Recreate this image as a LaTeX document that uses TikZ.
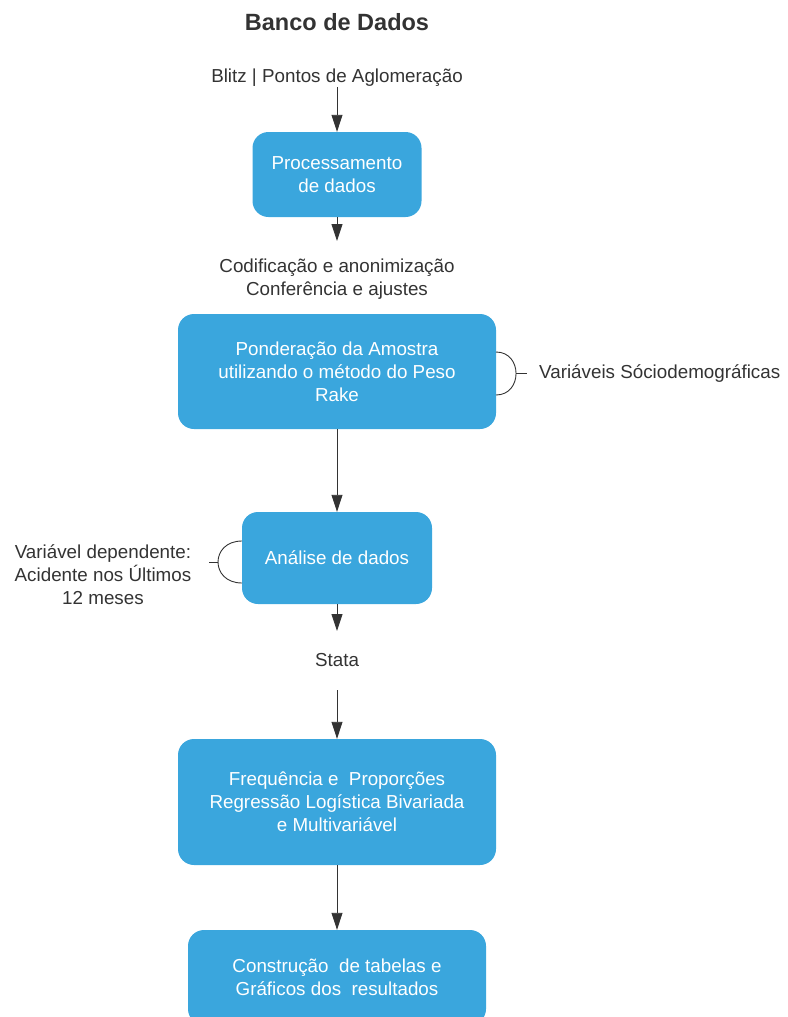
\documentclass[tikz,border=0pt]{standalone}
\usepackage{fontspec}
\setmainfont{Liberation Sans}
\usetikzlibrary{arrows.meta}
\definecolor{azul}{HTML}{3AA6DD}
\definecolor{cinza}{HTML}{333333}

\begin{document}
\begin{tikzpicture}[x=1pt, y=-1pt,
 every node/.style={font=\fontsize{18.8}{23}\selectfont},
 caixa/.style={fill=azul, rounded corners=16pt, text=white, align=center, inner sep=0pt},
 rotulo/.style={text=cinza, align=center, inner sep=0pt},
 seta/.style={draw=cinza, line width=0.9pt, -{Triangle[length=17pt,width=11pt]}},
 chave/.style={draw=cinza, line width=0.9pt}]
 \useasboundingbox (0,0) rectangle (787,1017);
 \node[rotulo, font=\bfseries\fontsize{23.5}{28}\selectfont] (titulo) at (337,22) {Banco de Dados};
 \node[rotulo] (blitz) at (337,78) {Blitz | Pontos de Aglomeração};
 \node[caixa, minimum width=169pt, minimum height=85pt] (proc) at (337,174.5) {Processamento\\de dados};
 \node[rotulo] (codif) at (337,279.5) {Codificação e anonimização\\Conferência e ajustes};
 \node[caixa, minimum width=318pt, minimum height=115pt] (pond) at (337,371.5) {Ponderação da Amostra\\utilizando o método do Peso\\Rake};
 \node[rotulo, anchor=west] (socio) at (539,374) {Variáveis Sóciodemográficas};
 \node[caixa, minimum width=190pt, minimum height=92pt] (anal) at (337,558) {Análise de dados};
 \node[rotulo] (depend) at (103,575) {Variável dependente:\\Acidente nos Últimos\\12 meses};
 \node[rotulo] (stata) at (337,660) {Stata};
 \node[caixa, minimum width=318pt, minimum height=126pt] (freq) at (337,802) {Frequência e~ Proporções\\Regressão Logística Bivariada\\e Multivariável};
 \node[caixa, minimum width=298pt, minimum height=95pt] (const) at (337,977.5) {Construção~ de tabelas e\\Gráficos dos~ resultados};
 % pontas livres das setas
 \coordinate (c1) at (337,241);
 \coordinate (c2) at (337,631);
 \coordinate (c3) at (337,690);
 \draw[seta] (blitz) -- (proc);
 \draw[seta] (proc) -- (c1);
 \draw[seta] (pond) -- (anal);
 \draw[seta] (anal) -- (c2);
 \draw[seta] (c3) -- (freq);
 \draw[seta] (freq) -- (const);
 % chaves laterais
 \draw[chave] (496,352) .. controls (522.7,352) and (522.7,395) .. (496,395);
 \draw[chave] (516,373.5) -- (527,373.5);
 \draw[chave] (242,541) .. controls (210,541) and (210,583) .. (242,583);
 \draw[chave] (218,562) -- (209,562);
\end{tikzpicture}
\end{document}
